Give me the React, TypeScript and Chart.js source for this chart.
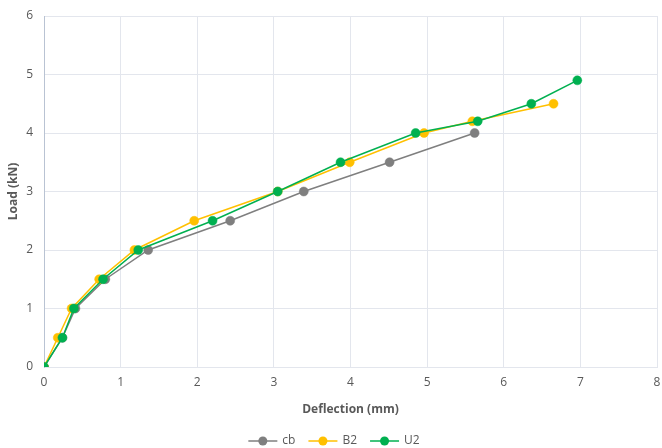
import React, { useEffect, useRef } from "react";
import { Chart, registerables } from "chart.js";

Chart.register(...registerables);

const seriesNames = ["cb", "B2", "U2"];
const seriesColors = ["#7f7f7f", "#ffc000", "#00b050"];

const cbDeflection = [0, 0.24, 0.41, 0.8, 1.36, 2.43, 3.39, 4.51, 5.62];
const cbLoad = [0, 0.5, 1, 1.5, 2, 2.5, 3, 3.5, 4];

const b2Deflection = [0, 0.18, 0.36, 0.72, 1.18, 1.96, 3.05, 3.99, 4.96, 5.59, 6.65];
const b2Load = [0, 0.5, 1, 1.5, 2, 2.5, 3, 3.5, 4, 4.2, 4.5];

const u2Deflection = [0, 0.24, 0.39, 0.77, 1.23, 2.2, 3.05, 3.87, 4.85, 5.66, 6.36, 6.96];
const u2Load = [0, 0.5, 1, 1.5, 2, 2.5, 3, 3.5, 4, 4.2, 4.5, 4.9];

const xTitle = "Deflection (mm)";
const yTitle = "Load (kN)";

const FONT = "'Open Sans', 'Noto Sans', sans-serif";
const TEXT = "#595959";

function toPoints(xs: number[], ys: number[]) {
  return xs.map((x, i) => ({ x, y: ys[i] }));
}

const legendPlugin = {
  id: "excelLegend",
  afterDraw(chart: any) {
    const ctx = chart.ctx;
    const ds = chart.data.datasets;
    ctx.save();
    ctx.font = `12px ${FONT}`;
    const lineW = 29;
    const gapText = 5;
    const gapItem = 13;
    const widths = ds.map((d: any) => lineW + gapText + ctx.measureText(d.label).width);
    const total = widths.reduce((a: number, b: number) => a + b, 0) + gapItem * (ds.length - 1);
    let x = (chart.width - total) / 2 + 3;
    const y = 441;
    ds.forEach((d: any, i: number) => {
      ctx.strokeStyle = d.borderColor;
      ctx.lineWidth = 1.5;
      ctx.beginPath();
      ctx.moveTo(x, y);
      ctx.lineTo(x + lineW, y);
      ctx.stroke();
      ctx.fillStyle = d.borderColor;
      ctx.beginPath();
      ctx.arc(x + lineW / 2, y, 4.5, 0, Math.PI * 2);
      ctx.fill();
      ctx.fillStyle = TEXT;
      ctx.textBaseline = "middle";
      ctx.textAlign = "left";
      ctx.fillText(d.label, x + lineW + gapText, y);
      x += widths[i] + gapItem;
    });
    ctx.restore();
  },
};

export default function App() {
  const ref = useRef<HTMLCanvasElement | null>(null);

  useEffect(() => {
    document.body.style.margin = "0";
    const canvas = ref.current;
    if (!canvas) return;
    const xs = [cbDeflection, b2Deflection, u2Deflection];
    const ys = [cbLoad, b2Load, u2Load];
    const chart = new Chart(canvas, {
      type: "line",
      data: {
        datasets: seriesNames.map((name, i) => ({
          label: name,
          data: toPoints(xs[i], ys[i]),
          borderColor: seriesColors[i],
          backgroundColor: seriesColors[i],
          pointBackgroundColor: seriesColors[i],
          pointBorderColor: seriesColors[i],
          pointRadius: 4.5,
          pointBorderWidth: 0.5,
          borderWidth: 1.5,
          tension: 0,
          fill: false,
          order: 2 - i,
        })),
      },
      options: {
        responsive: false,
        animation: false,
        layout: { padding: { left: 0, top: 16, right: 5, bottom: 31 } },
        plugins: {
          legend: { display: false },
          tooltip: { enabled: false },
        },
        scales: {
          x: {
            type: "linear",
            min: 0,
            max: 8,
            ticks: {
              stepSize: 1,
              color: TEXT,
              font: { family: FONT, size: 12 },
              padding: 8,
            },
            grid: { color: "#e3e6ed", drawTicks: false, lineWidth: 1 },
            border: { color: "#e3e6ed" },
            title: {
              display: true,
              text: xTitle,
              color: TEXT,
              font: { family: FONT, size: 12, weight: "bold" },
              padding: { top: 4, bottom: 0 },
            },
            afterFit: (s: any) => {
              s.height = 50;
              s.paddingRight = 0;
              s.paddingLeft = 0;
            },
          },
          y: {
            type: "linear",
            min: 0,
            max: 6,
            ticks: {
              stepSize: 1,
              color: TEXT,
              font: { family: FONT, size: 12 },
              padding: 11,
            },
            grid: { color: "#e3e6ed", drawTicks: false, lineWidth: 1 },
            border: { color: "#b9c3d3" },
            title: {
              display: true,
              text: yTitle,
              color: TEXT,
              font: { family: FONT, size: 12, weight: "bold" },
              padding: { top: 6, bottom: 0 },
            },
            afterFit: (s: any) => {
              s.width = 44;
              s.paddingTop = 0;
              s.paddingBottom = 0;
            },
          },
        },
      },
      plugins: [legendPlugin],
    });
    return () => chart.destroy();
  }, []);

  return <canvas ref={ref} width={662} height={448} style={{ display: "block" }} />;
}
